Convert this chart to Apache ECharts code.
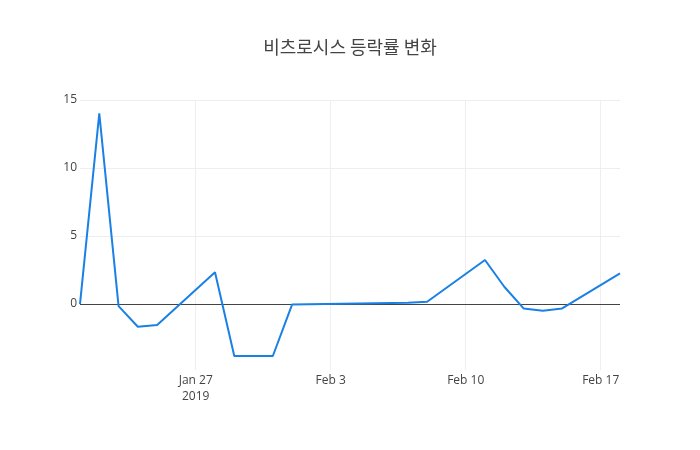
<!DOCTYPE html>
<html>
<head>
<meta charset="utf-8">
<script src="https://cdn.jsdelivr.net/npm/echarts@6/dist/echarts.min.js"></script>
<style>
html, body { margin: 0; padding: 0; background: #fff; }
#chart { width: 700px; height: 450px; }
</style>
</head>
<body>
<div id="chart"></div>
<script>
// 날짜별 등락률 (%)
var dates = ['2019-01-21', '2019-01-22', '2019-01-23', '2019-01-24', '2019-01-25',
    '2019-01-28', '2019-01-29', '2019-01-30', '2019-01-31', '2019-02-01',
    '2019-02-07', '2019-02-08', '2019-02-11', '2019-02-12', '2019-02-13',
    '2019-02-14', '2019-02-15', '2019-02-18'];
var rates = [0.0, 14.02, -0.15, -1.67, -1.54,
    2.33, -3.82, -3.82, -3.82, -0.03,
    0.1, 0.17, 3.24, 1.27, -0.32,
    -0.49, -0.32, 2.26];
var xTicks = ['2019-01-27', '2019-02-03', '2019-02-10', '2019-02-17'];
var yTicks = [0, 5, 10, 15];

// x축은 1월 27일 기준 일수로 계산
var base = '2019-01-27';
function dayOf(s) {
    var p = s.split('-');
    var t = Date.UTC(+p[0], p[1] - 1, +p[2]);
    var b = base.split('-');
    return Math.round((t - Date.UTC(+b[0], b[1] - 1, +b[2])) / 86400000);
}
function labelOf(n) {
    var b = base.split('-');
    var d = new Date(Date.UTC(+b[0], b[1] - 1, +b[2]) + n * 86400000);
    return ['Jan', 'Feb', 'Mar'][d.getUTCMonth()] + ' ' + d.getUTCDate();
}

var seriesData = [];
for (var i = 0; i < dates.length; i++) {
    seriesData.push([dayOf(dates[i]), rates[i]]);
}
var tickDays = xTicks.map(dayOf);

var chart = echarts.init(document.getElementById('chart'));
var font = '"Open Sans", "Noto Sans", sans-serif';

var option = {
    animation: false,
    title: {
        text: '비츠로시스 등락률 변화',
        left: 'center',
        top: 33,
        textStyle: {
            fontFamily: '"Noto Sans CJK KR", sans-serif',
            fontSize: 18,
            fontWeight: 'normal',
            color: '#444'
        }
    },
    grid: { left: 80, right: 80, top: 100, bottom: 80 },
    xAxis: {
        type: 'value',
        min: dayOf('2019-01-21'),
        max: dayOf('2019-02-18'),
        axisLine: { show: false, onZero: false },
        axisTick: { show: false, customValues: tickDays },
        splitLine: { show: true, lineStyle: { color: '#eee', width: 1 } },
        axisLabel: {
            customValues: tickDays,
            margin: 3,
            color: '#444',
            fontFamily: font,
            fontSize: 12,
            lineHeight: 16,
            formatter: function (v) {
                var s = labelOf(v);
                if (v === tickDays[0]) s += '\n2019';
                return s;
            }
        }
    },
    yAxis: {
        type: 'value',
        min: -4.85,
        max: 15,
        axisLine: { show: false },
        axisTick: { show: false, customValues: yTicks },
        splitLine: { show: true, lineStyle: { color: '#eee', width: 1 } },
        axisLabel: {
            customValues: yTicks,
            margin: 3,
            color: '#444',
            fontFamily: font,
            fontSize: 12,
            padding: [3, 0, 0, 0]
        }
    },
    series: [{
        type: 'line',
        data: seriesData,
        showSymbol: false,
        lineStyle: { color: '#1a80e5', width: 2 },
        itemStyle: { color: '#1a80e5' },
        z: 3,
        markLine: {
            silent: true,
            symbol: 'none',
            label: { show: false },
            lineStyle: { color: '#444', width: 1, type: 'solid' },
            data: [{ yAxis: 0 }],
            z: 2
        }
    }]
};

chart.setOption(option);
</script>
</body>
</html>
